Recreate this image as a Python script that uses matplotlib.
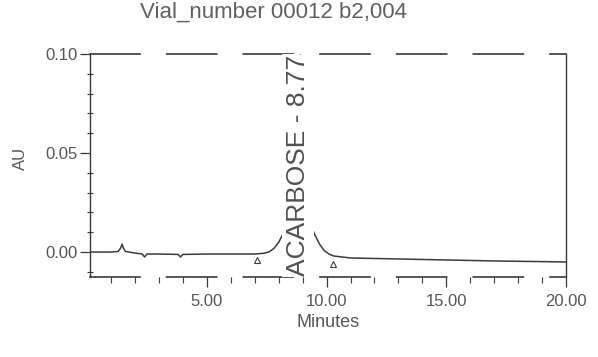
import matplotlib.pyplot as plt
from matplotlib.ticker import MultipleLocator, FixedLocator

# chromatogram trace (minutes, AU)
time = [0.1, 1.0, 1.3, 1.4, 1.46, 1.52, 1.6, 2.0, 2.3, 2.4, 2.5, 3.0, 3.8, 3.9, 4.0,
        5.0, 6.0, 7.0, 7.4, 7.6, 7.8, 8.0, 8.2, 8.4, 8.6, 8.85, 9.1, 9.3, 9.5,
        9.7, 9.9, 10.1, 10.3, 11.0, 13.0, 15.0, 17.0, 20.0]
au = [0.0, 0.0, 0.0003, 0.002, 0.004, 0.002, 0.0003, -0.0005, -0.001, -0.0025, -0.001,
      -0.001, -0.0012, -0.0025, -0.0012, -0.001, -0.001, -0.001, -0.0006, 0.0001,
      0.0018, 0.0049, 0.0097, 0.0157, 0.0211, 0.0239, 0.0206, 0.0152, 0.009,
      0.0041, 0.0008, -0.001, -0.002, -0.003, -0.0035, -0.004, -0.0045, -0.005]

# integration start / end marks
marks_t = [7.1, 10.25]
marks_au = [-0.004, -0.006]

peak_name = "ACARBOSE - 8.775"
peak_rt = 8.8
title = "Vial_number 00012 b2,004"

ink = '#3a3a3a'
plt.rcParams['font.family'] = ['Liberation Sans', 'DejaVu Sans']

fig = plt.figure(figsize=(5.98, 3.57), dpi=100)
ax = fig.add_axes([0.1505, 0.2241, 0.796, 0.6246])

ax.plot(time, au, color=ink, lw=1.1)
ax.plot(marks_t, marks_au, ls='none', marker='^', ms=4, mfc='none', mec=ink, mew=0.8)

# peak label sits over the apex, clipped at the top of the plot
ax.text(peak_rt, -0.0122, peak_name, rotation=90, ha='center', va='bottom',
        fontsize=19, color='#505050', clip_on=True,
        bbox=dict(facecolor='white', edgecolor='none', pad=3))

ax.set_xlim(0.12, 20.0)
ax.set_ylim(-0.0126, 0.10)

ax.xaxis.set_major_locator(FixedLocator([5, 10, 15, 20]))
ax.xaxis.set_minor_locator(MultipleLocator(1))
ax.yaxis.set_major_locator(FixedLocator([0.0, 0.05, 0.10]))
ax.yaxis.set_minor_locator(MultipleLocator(0.01))
ax.xaxis.set_major_formatter(plt.FormatStrFormatter('%.2f'))
ax.yaxis.set_major_formatter(plt.FormatStrFormatter('%.2f'))

ax.tick_params(axis='both', which='major', colors=ink, labelcolor='#555555',
               labelsize=12, length=7, width=0.9, direction='out')
ax.tick_params(axis='x', which='major', pad=5)
ax.tick_params(axis='y', which='major', pad=2)
ax.tick_params(axis='both', which='minor', colors=ink, length=4, width=0.8,
               direction='out')
ax.tick_params(axis='y', which='minor', direction='inout')

for side in ['left', 'right']:
    ax.spines[side].set_color(ink)
    ax.spines[side].set_linewidth(1.0)
for side in ['top', 'bottom']:
    ax.spines[side].set_color(ink)
    ax.spines[side].set_linewidth(1.2)
    ax.spines[side].set_linestyle((0, (30, 16)))

ax.set_xlabel('Minutes', fontsize=13, color='#555555', labelpad=4)
fig.text(0.034, 0.555, 'AU', rotation=90, ha='center', va='center',
         fontsize=12, color='#555555')
fig.text(0.457, 0.951, title, ha='center', va='baseline', fontsize=16,
         color='#606060')

fig.savefig('out.png', dpi=100)
